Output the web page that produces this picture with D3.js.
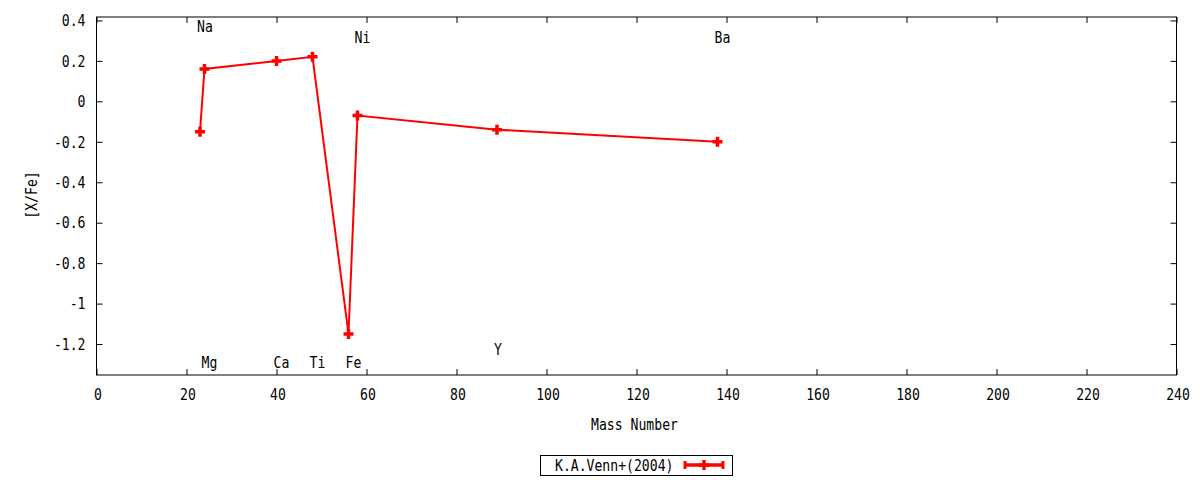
<!DOCTYPE html>
<html><head><meta charset="utf-8">
<script src="https://cdn.jsdelivr.net/npm/d3@7"></script>
<style>body{margin:0;background:#fff}text{font-family:"DejaVu Sans Mono",monospace;font-size:16px;fill:#000}</style>
</head><body><svg id="c" width="1200" height="480"></svg>
<script>
const massNumbers = [23, 24, 40, 48, 56, 58, 89, 138];
const xFe = [-0.15, 0.16, 0.20, 0.22, -1.15, -0.07, -0.14, -0.20];
const elements = ["Na", "Mg", "Ca", "Ti", "Fe", "Ni", "Y", "Ba"];
const labelY = [0.37, -1.29, -1.29, -1.29, -1.29, 0.315, -1.225, 0.315];
const xTicks = [0,20,40,60,80,100,120,140,160,180,200,220,240];
const yTicks = [0.4,0.2,0,-0.2,-0.4,-0.6,-0.8,-1,-1.2];
const seriesName = "K.A.Venn+(2004)";

const svg = d3.select("#c");
const L=96.5,R=1176.5,T=17,B=375;
const x = d3.scaleLinear().domain([0,240]).range([L,R]);
const y = d3.scaleLinear().domain([-1.353,0.417]).range([B,T]);
const SX = 0.82, HALF = 5.8;

function txt(px, py, str, anchor, rot){
  return svg.append("text")
    .attr("transform",`translate(${px},${py})${rot?` rotate(${rot})`:""} scale(${SX},1)`)
    .attr("text-anchor",anchor||"start").text(str);
}

svg.append("rect").attr("x",L).attr("y",T).attr("width",R-L).attr("height",B-T)
  .attr("fill","none").attr("stroke","#000").attr("stroke-width",1);

const gb = svg.append("g").attr("transform",`translate(0,${B})`)
  .call(d3.axisBottom(x).tickValues(xTicks).tickSize(-6).tickFormat(""));
const gt = svg.append("g").attr("transform",`translate(0,${T})`)
  .call(d3.axisTop(x).tickValues(xTicks).tickSize(-6).tickFormat(""));
const gl = svg.append("g").attr("transform",`translate(${L},0)`)
  .call(d3.axisLeft(y).tickValues(yTicks).tickSize(-6).tickFormat(""));
const gr = svg.append("g").attr("transform",`translate(${R},0)`)
  .call(d3.axisRight(y).tickValues(yTicks).tickSize(-6).tickFormat(""));
[gb,gt,gl,gr].forEach(g=>{g.select(".domain").remove();
  g.selectAll("line").attr("stroke","#000");});

const fmt = v => Math.abs(v)<1e-9 ? "0" : String(+v.toFixed(1));
xTicks.forEach(v=>txt(x(v)+1.5, 399.5, String(v), "middle"));
yTicks.forEach(v=>txt(L-11, y(v)+HALF, fmt(v), "end"));

txt(634.5, 430, "Mass Number", "middle");
txt(37, 195, "[X/Fe]", "middle", -90);

elements.forEach((e,i)=>txt(x(massNumbers[i])-3, y(labelY[i])+HALF, e, "start"));

const pts = massNumbers.map((m,i)=>[m,xFe[i]]);
const line = d3.line().x(d=>x(d[0])).y(d=>y(d[1]));
svg.append("path").attr("d",line(pts)).attr("fill","none").attr("stroke","#f00").attr("stroke-width",2);
const plus = (cx,cy,s)=>`M${cx-s},${cy}H${cx+s}M${cx},${cy-s}V${cy+s}`;
svg.selectAll(".pt").data(pts).join("path").attr("class","pt")
  .attr("d",d=>plus(x(d[0]),y(d[1]),5)).attr("stroke","#f00").attr("stroke-width",3.5).attr("fill","none");

// legend
svg.append("rect").attr("x",540.5).attr("y",455.5).attr("width",192).attr("height",20)
  .attr("fill","none").attr("stroke","#000");
txt(555, 465.5+HALF, seriesName, "start");
svg.append("path").attr("d","M684,465H724").attr("stroke","#f00").attr("stroke-width",3.5);
svg.append("path").attr("d","M685,461V469M723,461V469").attr("stroke","#f00").attr("stroke-width",3);
svg.append("path").attr("d",plus(704,465,5)).attr("stroke","#f00").attr("stroke-width",3.5);
</script></body></html>
